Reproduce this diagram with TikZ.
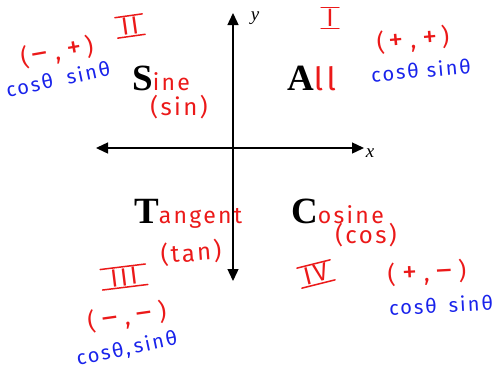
\documentclass[tikz,border=0pt]{standalone}
\usepackage{fontspec}
\setmainfont{Liberation Serif}
\newfontfamily\hand[LetterSpace=10]{Fira Sans}
\usetikzlibrary{arrows.meta}
\definecolor{hred}{RGB}{235,25,25}
\definecolor{hblue}{RGB}{25,35,235}
\newcommand\hw[2][23]{{\fontsize{#1}{#1}\selectfont\mdseries\hand\color{hred}#2}}
\newcommand\sg[1]{{\fontsize{30}{30}\selectfont #1}}
\begin{document}
\begin{tikzpicture}[x=1pt,y=-1pt,
  axis/.style={line width=1.4pt, {Triangle[length=12pt,width=11pt]}-{Triangle[length=12pt,width=11pt]}},
  big/.style={font=\fontsize{37}{40}\selectfont\bfseries, inner sep=0pt, anchor=base west},
  axlabel/.style={font=\fontsize{19}{20}\selectfont\itshape, inner sep=0pt},
  redhand/.style={text=hred, font=\fontsize{24}{26}\selectfont\hand, inner sep=0pt},
  bluehand/.style={text=hblue, font=\fontsize{20}{22}\selectfont\hand, inner sep=0pt},
  roman/.style={text=hred, font=\fontsize{25}{26}\selectfont\hand, inner xsep=5pt, inner ysep=1.5pt},
  bar/.style={draw=hred, line width=1.5pt, line cap=round}]
\useasboundingbox (0,0) rectangle (495,370);
% axes
\coordinate (ytop) at (233,13);
\coordinate (ybot) at (233,281);
\coordinate (xl) at (96,148);
\coordinate (xr) at (364,148);
\draw[axis] (ybot) -- (ytop);
\draw[axis] (xl) -- (xr);
\node[axlabel] (ylab) at (255,18) {y};
\node[axlabel] (xlab) at (370,153) {x};
% quadrant words
\node[big] (S) at (132,90) {S\hw{ine}};
\node[big] (A) at (287,90) {A\hw[32]{ll}};
\node[big] (T) at (134,223) {T\hw{angent}};
\node[big] (C) at (291,223) {C\hw{osine}};
\node[redhand] (sin) at (179,107) {(sin)};
\node[redhand, rotate=4] (tan) at (191,253) {(tan)};
\node[redhand] (cos) at (366,235) {(cos)};
% roman numerals
\node[roman, rotate=8] (r2) at (130,26) {II};
\node[roman] (r1) at (330,18) {I};
\node[roman, rotate=7, inner xsep=9pt] (r3) at (124,277) {III};
\node[roman, rotate=14] (r4) at (316,274) {IV};
\foreach \r in {r1,r2,r3,r4}{
  \draw[bar] (\r.north west) -- (\r.north east);
  \draw[bar] (\r.south west) -- (\r.south east);
}
% signs
\node[redhand, rotate=10] (s2) at (57,52) {(\,\sg{–}\;,\;\sg{+}\,)};
\node[bluehand, rotate=12] (c2) at (58,79) {cosθ\hspace{14pt}sinθ};
\node[redhand, rotate=5] (s1) at (413,40) {(\,\sg{+}\;,\;\sg{+}\,)};
\node[bluehand, rotate=5] (c1) at (421,70) {cosθ\hspace{8pt}sinθ};
\node[redhand, rotate=8] (s3) at (127,317) {(\;\sg{–}\;,\;\sg{–}\;)};
\node[bluehand, rotate=12] (c3) at (127,349) {cosθ,\hspace{4pt}sinθ};
\node[redhand, rotate=3] (s4) at (427,273) {(\;\sg{+}\;,\;\sg{–}\;)};
\node[bluehand, rotate=3] (c4) at (441,305) {cosθ\hspace{12pt}sinθ};
\end{tikzpicture}
\end{document}
